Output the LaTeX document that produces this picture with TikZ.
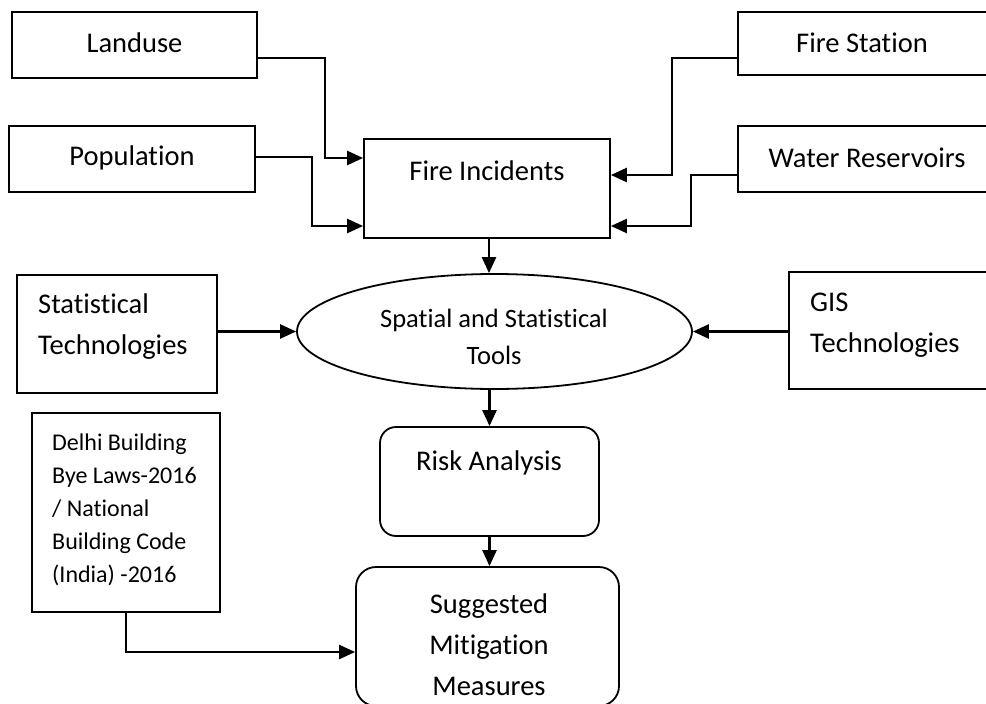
\documentclass[tikz,border=0pt]{standalone}
\usepackage{fontspec}
\setmainfont{Carlito}[Ligatures=NoCommon]
\usetikzlibrary{arrows.meta,shapes.geometric}
\begin{document}
\begin{tikzpicture}[x=1pt,y=-1pt,
  box/.style={draw,line width=1.8pt,inner sep=0pt},
  rbox/.style={box,rounded corners=16pt},
  lbl/.style={inner sep=0pt,font=\fontsize{28.5}{41}\selectfont},
  slbl/.style={inner sep=0pt,font=\fontsize{24}{33}\selectfont},
  arr/.style={line width=2.5pt,-{Triangle[length=16pt,width=14pt]}}]
\useasboundingbox (0,0) rectangle (986,704);
% boxes
\node[box,minimum width=245pt,minimum height=66pt] (land) at (134.5,45) {};
\node[box,minimum width=246pt,minimum height=66pt] (pop) at (132,159) {};
\node[box,minimum width=249pt,minimum height=63pt] (fs) at (862.5,43.5) {};
\node[box,minimum width=249pt,minimum height=66pt] (wr) at (862.5,159) {};
\node[box,minimum width=246pt,minimum height=99pt] (fi) at (487,188.5) {};
\node[box,minimum width=200pt,minimum height=118pt] (st) at (117,334) {};
\node[draw,line width=1.8pt,ellipse,inner sep=0pt,minimum width=395pt,minimum height=115pt] (ell) at (494.5,331.5) {};
\node[box,minimum width=198pt,minimum height=117pt] (gis) at (888,330.5) {};
\node[rbox,minimum width=219pt,minimum height=109pt] (risk) at (489.5,481.5) {};
\node[box,minimum width=188pt,minimum height=199pt] (dl) at (126,512.5) {};
\node[rbox,rounded corners=20pt,minimum width=263pt,minimum height=139pt] (sm) at (487.5,636.5) {};
% texts
\node[lbl] (tland) at (134.5,43) {Landuse};
\node[lbl] (tpop) at (132,158) {Population};
\node[lbl] (tfs) at (862,43) {Fire Station};
\node[lbl] (twr) at (867,158) {Water Reservoirs};
\node[lbl] (tfi) at (487,171) {Fire Incidents};
\node[lbl,anchor=west,align=left] (tst) at (38,327) {Statistical\\Technologies};
\node[inner sep=0pt,font=\fontsize{26.5}{37}\selectfont,align=center] (tell) at (494,337) {Spatial and Statistical\\Tools};
\node[lbl,anchor=west,align=left] (tgis) at (810,325) {GIS\\Technologies};
\node[lbl] (trisk) at (489,463) {Risk Analysis};
\node[slbl,anchor=west,align=left] (tdl) at (52,510) {Delhi Building\\Bye Laws-2016\\/ National\\Building Code\\(India) -2016};
\node[lbl,align=center] (tsm) at (489,645) {Suggested\\Mitigation\\Measures};
% connectors
\draw[arr] ([yshift=-13pt]land.east) -- ++(67,0) |- ([yshift=30.5pt]fi.west);
\draw[arr] ([yshift=2pt]pop.east) -- ++(56,0) |- ([yshift=-37.5pt]fi.west);
\draw[arr] ([yshift=-14.5pt]fs.west) -- ++(-65,0) |- ([yshift=13.5pt]fi.east);
\draw[arr] ([yshift=-16pt]wr.west) -- ++(-46,0) |- ([yshift=-37.5pt]fi.east);
\draw[arr] ([xshift=2pt]fi.south) -- ([xshift=2pt]fi.south |- ell.north);
\draw[arr] (st.east |- ell.west) -- (ell.west);
\draw[arr] (gis.west |- ell.east) -- (ell.east);
\draw[arr] (risk.north |- ell.south) -- (risk.north);
\draw[arr] (risk.south) -- (risk.south |- sm.north);
\draw[arr] (dl.south) |- ([yshift=-15.5pt]sm.west);
\end{tikzpicture}
\end{document}
